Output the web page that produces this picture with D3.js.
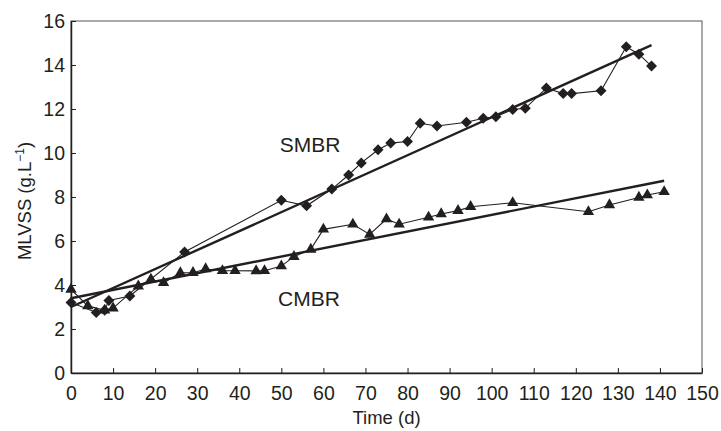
<!DOCTYPE html>
<html>
<head>
<meta charset="utf-8">
<script src="https://cdn.jsdelivr.net/npm/d3@7"></script>
<style>
  body { margin: 0; background: #fff; }
  text { font-family: Arial, "Liberation Sans", sans-serif; fill: #231f20; }
</style>
</head>
<body>
<div id="chart"></div>
<script>
// SMBR (diamonds) - day, MLVSS
const smbrDays = [0, 6, 8, 9, 14, 27, 50, 56, 62, 66, 69, 73, 76, 80, 83, 87, 94, 98, 101, 105, 108, 113, 117, 119, 126, 132, 135, 138];
const smbrValues = [3.2, 2.75, 2.85, 3.3, 3.5, 5.5, 7.85, 7.6, 8.36, 9.0, 9.55, 10.15, 10.45, 10.52, 11.35, 11.23, 11.4, 11.58, 11.65, 11.98, 12.03, 12.95, 12.7, 12.7, 12.83, 14.83, 14.49, 13.95];

// CMBR (triangles)
const cmbrDays = [0, 4, 8, 10, 16, 19, 22, 26, 29, 32, 36, 39, 44, 46, 50, 53, 57, 60, 67, 71, 75, 78, 85, 88, 92, 95, 105, 123, 128, 135, 137, 141];
const cmbrValues = [3.8, 3.05, 2.85, 2.95, 3.95, 4.26, 4.1, 4.55, 4.56, 4.73, 4.65, 4.65, 4.64, 4.65, 4.86, 5.29, 5.62, 6.53, 6.76, 6.3, 7.0, 6.76, 7.08, 7.23, 7.38, 7.56, 7.74, 7.33, 7.64, 7.98, 8.09, 8.24];

// trend lines (end points)
const smbrTrend = [[0, 3.0], [138, 14.9]];
const cmbrTrend = [[0, 3.4], [141, 8.74]];

const xTicks = d3.range(0, 151, 10);
const yTicks = d3.range(0, 17, 2);

const W = 721, H = 431;
const margin = { top: 21, right: 19, bottom: 58, left: 71 };
const width = W - margin.left - margin.right;
const height = H - margin.top - margin.bottom;
const ink = "#231f20";

const svg = d3.select("#chart").append("svg")
    .attr("width", W)
    .attr("height", H);

const g = svg.append("g")
    .attr("transform", `translate(${margin.left},${margin.top})`);

const x = d3.scaleLinear().domain([0, 150]).range([0, width]);
const y = d3.scaleLinear().domain([0, 16]).range([height, 0]);

// Rahmen
g.append("rect")
    .attr("width", width)
    .attr("height", height)
    .attr("fill", "none")
    .attr("stroke", "#555")
    .attr("stroke-width", 1);

// Achsen
const xAxis = g.append("g")
    .attr("transform", `translate(0,${height})`)
    .call(d3.axisBottom(x).tickValues(xTicks).tickSizeInner(-5).tickSizeOuter(0).tickPadding(13));
const yAxis = g.append("g")
    .call(d3.axisLeft(y).tickValues(yTicks).tickSizeInner(-5).tickSizeOuter(0).tickPadding(6));

[xAxis, yAxis].forEach(a => {
    a.select(".domain").attr("stroke", ink).attr("stroke-width", 1.5);
    a.selectAll(".tick line").attr("stroke", ink);
    a.selectAll(".tick text")
        .attr("font-size", "19.5px")
        .attr("fill", ink)
        .style("font-family", "Arial, 'Liberation Sans', sans-serif");
});

// Achsentitel
g.append("text")
    .attr("x", x(75))
    .attr("y", height + 51)
    .attr("text-anchor", "middle")
    .attr("font-size", "18.5px")
    .text("Time (d)");

const yTitle = g.append("text")
    .attr("transform", `translate(${-40},${height / 2 + 4}) rotate(-90)`)
    .attr("text-anchor", "middle")
    .attr("font-size", "18.5px");
yTitle.append("tspan").text("MLVSS (g.L");
yTitle.append("tspan").attr("dy", -7).attr("font-size", "12px").text("\u22121");
yTitle.append("tspan").attr("dy", 7).text(")");

const line = d3.line().x(d => x(d[0])).y(d => y(d[1]));

// Trendlinien
[smbrTrend, cmbrTrend].forEach(t => {
    g.append("path")
        .attr("d", line(t))
        .attr("fill", "none")
        .attr("stroke", ink)
        .attr("stroke-width", 2.4);
});

const smbr = smbrDays.map((d, i) => [d, smbrValues[i]]);
const cmbr = cmbrDays.map((d, i) => [d, cmbrValues[i]]);

// Datenlinien
[smbr, cmbr].forEach(s => {
    g.append("path")
        .attr("d", line(s))
        .attr("fill", "none")
        .attr("stroke", ink)
        .attr("stroke-width", 1.1);
});

// Marker
g.selectAll(".tri")
    .data(cmbr)
    .enter().append("path")
    .attr("class", "tri")
    .attr("transform", d => `translate(${x(d[0])},${y(d[1])})`)
    .attr("d", d3.symbol(d3.symbolTriangle, 56))
    .attr("fill", ink);

g.selectAll(".dia")
    .data(smbr)
    .enter().append("path")
    .attr("class", "dia")
    .attr("transform", d => `translate(${x(d[0])},${y(d[1])}) rotate(45)`)
    .attr("d", d3.symbol(d3.symbolSquare, 60))
    .attr("fill", ink);

// Serienbeschriftung
g.append("text")
    .attr("x", 310 - margin.left)
    .attr("y", 152 - margin.top)
    .attr("text-anchor", "middle")
    .attr("font-size", "21px")
    .text("SMBR");

g.append("text")
    .attr("x", 309 - margin.left)
    .attr("y", 306 - margin.top)
    .attr("text-anchor", "middle")
    .attr("font-size", "21px")
    .text("CMBR");
</script>
</body>
</html>
